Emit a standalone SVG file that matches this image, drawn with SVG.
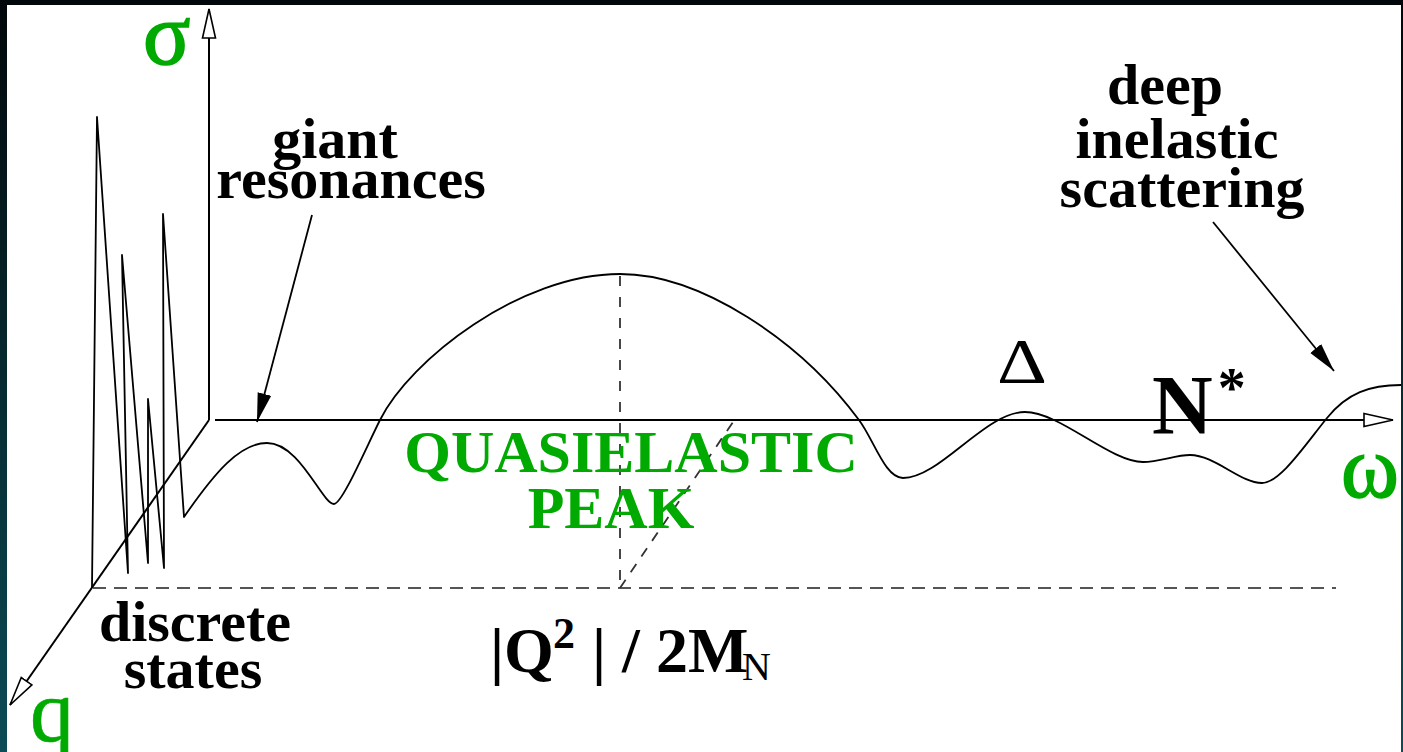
<svg xmlns="http://www.w3.org/2000/svg" width="1403" height="752" viewBox="0 0 1403 752">
<defs>
<linearGradient id="bg" x1="0" y1="0" x2="0" y2="1">
<stop offset="0" stop-color="#01070a"/>
<stop offset="1" stop-color="#0b4c56"/>
</linearGradient>
<marker id="open" markerUnits="userSpaceOnUse" viewBox="0 0 32 16" markerWidth="32" markerHeight="16" refX="30" refY="8" orient="auto">
<path d="M1,1.5 L30,8 L1,14.5 Z" fill="#fff" stroke="#000" stroke-width="1.6"/>
</marker>
<marker id="solid" markerUnits="userSpaceOnUse" viewBox="0 0 30 16" markerWidth="30" markerHeight="16" refX="29" refY="8" orient="auto">
<path d="M0,1 L29,8 L0,15 Z" fill="#000"/>
</marker>
<style>
.ax{stroke:#000;stroke-width:2;fill:none}
.lbl{font-family:"Liberation Serif","Times New Roman",serif;font-weight:bold;font-size:58px;fill:#000;text-anchor:middle}
.grn{font-family:"Liberation Serif","Times New Roman",serif;font-weight:bold;font-size:60px;fill:#00aa00;text-anchor:middle}
.axl{font-family:"Liberation Serif","Times New Roman",serif;font-size:88px;fill:#00aa00;stroke:#00aa00;stroke-width:1.6}
.curve{stroke:#000;stroke-width:1.8;fill:none;stroke-linejoin:round}
.delta{font-family:"Liberation Serif","Times New Roman",serif;font-weight:normal;font-size:64px;fill:#000;text-anchor:middle}
</style>
</defs>
<rect x="0" y="0" width="1403" height="752" fill="url(#bg)"/>
<rect x="7" y="5" width="1394" height="747" fill="#fff"/>

<g id="guides">
<line x1="93" y1="588" x2="1336" y2="588" stroke="#555" stroke-width="2" stroke-dasharray="13 8"/>
<line x1="620" y1="276" x2="620" y2="588" stroke="#333" stroke-width="1.8" stroke-dasharray="10 11"/>
<line x1="620" y1="588" x2="733" y2="422" stroke="#333" stroke-width="1.8" stroke-dasharray="10 9"/>
</g>

<g id="axes">
<line class="ax" x1="209" y1="420" x2="209" y2="9" marker-end="url(#open)"/>
<line class="ax" x1="215" y1="420" x2="1393" y2="420" marker-end="url(#open)"/>
<line class="ax" x1="209" y1="420" x2="10" y2="705" marker-end="url(#open)"/>
</g>

<g id="spectrum">
<path class="curve" d="M92,588 L97,117 L128,573 L122,255 L148,563 L148,399 L164,568 L163,214 L184,517 C215,472 240,443 267,443 C300,443 322,504 334,504 C342,504 365,450 380,420 C410,360 520,274 620,274 C700,274 800,340 859,420 C874,440 885,478 903,478 C940,478 985,412 1025,412 C1060,412 1110,462 1143,462 C1160,462 1175,455 1190,455 C1215,455 1240,483 1262,483 C1280,483 1305,445 1327,418 C1347,393 1370,385 1401,385"/>
</g>

<g id="connectors">
<line x1="312" y1="215" x2="257" y2="422" stroke="#000" stroke-width="1.8" marker-end="url(#solid)"/>
<line x1="1213" y1="222" x2="1334" y2="371" stroke="#000" stroke-width="1.8" marker-end="url(#solid)"/>
</g>

<g id="axis-labels">
<text class="axl" x="143" y="64">σ</text>
<text class="axl" x="1341" y="497">ω</text>
<text class="axl" x="30" y="741" style="stroke-width:0.6">q</text>
</g>

<g id="label-giant">
<text class="lbl" x="335" y="158">giant</text>
<text class="lbl" x="351" y="198">resonances</text>
</g>
<g id="label-dis">
<text class="lbl" x="1165" y="104">deep</text>
<text class="lbl" x="1177" y="158">inelastic</text>
<text class="lbl" x="1182" y="207">scattering</text>
</g>
<g id="label-discrete">
<text class="lbl" x="195" y="641">discrete</text>
<text class="lbl" x="193" y="688">states</text>
</g>
<g id="label-qe">
<text class="grn" x="631" y="472">QUASIELASTIC</text>
<text class="grn" x="611" y="528">PEAK</text>
</g>
<g id="label-delta">
<text class="delta" x="1022" y="383" textLength="50" lengthAdjust="spacingAndGlyphs">Δ</text>
</g>
<g id="label-nstar">
<text font-family="Liberation Serif, Times New Roman, serif" font-weight="bold" font-size="84" x="1152" y="434">N<tspan font-size="56" dy="-27" dx="5">*</tspan></text>
</g>
<g id="label-q2">
<text font-family="Liberation Serif, Times New Roman, serif" font-weight="bold" font-size="64" y="672"><tspan x="490">|Q</tspan><tspan x="553" font-size="44" y="648">2</tspan><tspan x="592" y="672">| / 2M</tspan><tspan x="742" y="680" font-size="40" font-weight="normal">N</tspan></text>
</g>
</svg>
